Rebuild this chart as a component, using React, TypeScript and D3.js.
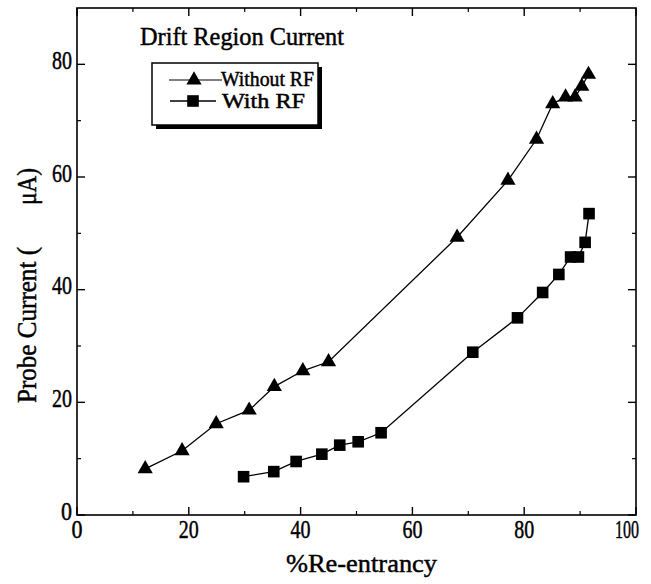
import React from "react";
import * as d3 from "d3";

const withoutRF_x = [12.2, 18.8, 24.9, 30.8, 35.3, 40.4, 45.0, 68.0, 77.1, 82.2, 85.1, 87.4, 89.1, 90.3, 91.5];
const withoutRF_y = [8.2, 11.4, 16.2, 18.6, 22.8, 25.6, 27.2, 49.3, 59.4, 66.7, 73.0, 74.2, 74.2, 76.1, 78.2];
const withRF_x = [29.8, 35.2, 39.2, 43.8, 47.0, 50.3, 54.4, 70.8, 78.8, 83.3, 86.2, 88.3, 89.7, 90.9, 91.6];
const withRF_y = [6.8, 7.7, 9.5, 10.8, 12.4, 13.0, 14.6, 28.9, 35.0, 39.5, 42.7, 45.8, 45.8, 48.4, 53.5];
const xTicks = [0, 20, 40, 60, 80, 100];
const yTicks = [0, 20, 40, 60, 80];
const xMinor = [10, 30, 50, 70, 90];
const yMinor = [10, 30, 50, 70];

const W = 651, H = 584;
const L = 77, R = 636, T = 8, B = 515;
const font = "'Liberation Serif', 'Times New Roman', serif";
const ts = { stroke: "#000", strokeWidth: 0.45 };

export default function App() {
  const x = d3.scaleLinear().domain([0, 100]).range([L, R]);
  const y = d3.scaleLinear().domain([0, 90]).range([B, T]);
  const line = d3.line<[number, number]>().x(d => x(d[0])).y(d => y(d[1]));
  const s1: [number, number][] = withoutRF_x.map((v, i) => [v, withoutRF_y[i]]);
  const s2: [number, number][] = withRF_x.map((v, i) => [v, withRF_y[i]]);
  const tri = d3.symbol().type(d3.symbolTriangle).size(100)()!;
  const sq = (cx: number, cy: number, k: string) => <rect key={k} x={cx - 5.8} y={cy - 5.8} width={11.6} height={11.6} fill="#000" />;
  const major = 8, minor = 4;
  const lenFor = (t: number) => (t === 100 ? 24 : t === 0 ? 11 : 20);
  return (
    <svg width={W} height={H} style={{ position: "absolute", left: 0, top: 0, background: "#fff" }}>
      <rect x={0} y={0} width={W} height={H} fill="#fff" />
      <rect x={L} y={T} width={R - L} height={B - T} fill="none" stroke="#000" strokeWidth={1.6} />
      {xTicks.map(t => (
        <g key={"xt" + t}>
          <line x1={x(t)} x2={x(t)} y1={B} y2={B - major} stroke="#000" strokeWidth={1.4} />
          <line x1={x(t)} x2={x(t)} y1={T} y2={T + major} stroke="#000" strokeWidth={1.4} />
          <text x={t === 100 ? x(t) - 9 : x(t)} y={538} textAnchor="middle" fontFamily={font} fontSize={25}
            textLength={lenFor(t)} lengthAdjust="spacingAndGlyphs" {...ts}>{t}</text>
        </g>
      ))}
      {xMinor.map(t => (
        <g key={"xm" + t}>
          <line x1={x(t)} x2={x(t)} y1={B} y2={B - minor} stroke="#000" strokeWidth={1.2} />
          <line x1={x(t)} x2={x(t)} y1={T} y2={T + minor} stroke="#000" strokeWidth={1.2} />
        </g>
      ))}
      {yTicks.map(t => (
        <g key={"yt" + t}>
          <line x1={L} x2={L + major} y1={y(t)} y2={y(t)} stroke="#000" strokeWidth={1.4} />
          <line x1={R} x2={R - major} y1={y(t)} y2={y(t)} stroke="#000" strokeWidth={1.4} />
          <text x={L - 5} y={y(t) + 4.5} textAnchor="end" fontFamily={font} fontSize={25}
            textLength={lenFor(t)} lengthAdjust="spacingAndGlyphs" {...ts}>{t}</text>
        </g>
      ))}
      {yMinor.map(t => (
        <g key={"ym" + t}>
          <line x1={L} x2={L + minor} y1={y(t)} y2={y(t)} stroke="#000" strokeWidth={1.2} />
          <line x1={R} x2={R - minor} y1={y(t)} y2={y(t)} stroke="#000" strokeWidth={1.2} />
        </g>
      ))}
      <path d={line(s1)!} fill="none" stroke="#000" strokeWidth={1.3} />
      <path d={line(s2)!} fill="none" stroke="#000" strokeWidth={1.3} />
      {s1.map((d, i) => (
        <path key={"t" + i} d={tri} transform={`translate(${x(d[0])},${y(d[1])})`} fill="#000" />
      ))}
      {s2.map((d, i) => sq(x(d[0]), y(d[1]), "s" + i))}
      <text x={140} y={45} fontFamily={font} fontSize={25} textLength={204} lengthAdjust="spacingAndGlyphs" {...ts}>Drift Region Current</text>
      <rect x={156} y={67} width={166} height={62} fill="#000" />
      <rect x={152} y={63} width={166} height={62} fill="#fff" stroke="#000" strokeWidth={1.5} />
      <line x1={169} x2={222} y1={80} y2={80} stroke="#000" strokeWidth={1} />
      <path d={tri} transform="translate(194,80)" fill="#000" />
      <text x={221} y={86} fontFamily={font} fontSize={20} textLength={93} lengthAdjust="spacingAndGlyphs" {...ts}>Without RF</text>
      <line x1={170} x2={216} y1={101} y2={101} stroke="#000" strokeWidth={1.3} />
      {sq(193, 101, "lsq")}
      <text x={222} y={108} fontFamily={font} fontSize={20} textLength={83} lengthAdjust="spacingAndGlyphs" {...ts}>With RF</text>
      <text x={286} y={572} fontFamily={font} fontSize={26} textLength={151} lengthAdjust="spacingAndGlyphs" {...ts}>%Re-entrancy</text>
      <g transform="translate(36,0) rotate(-90)">
        <text x={-403} y={0} fontFamily={font} fontSize={28} textLength={156} lengthAdjust="spacingAndGlyphs" {...ts}>Probe Current (</text>
        <text x={-205} y={0} fontFamily={font} fontSize={28} textLength={37} lengthAdjust="spacingAndGlyphs" {...ts}>μA)</text>
      </g>
    </svg>
  );
}
